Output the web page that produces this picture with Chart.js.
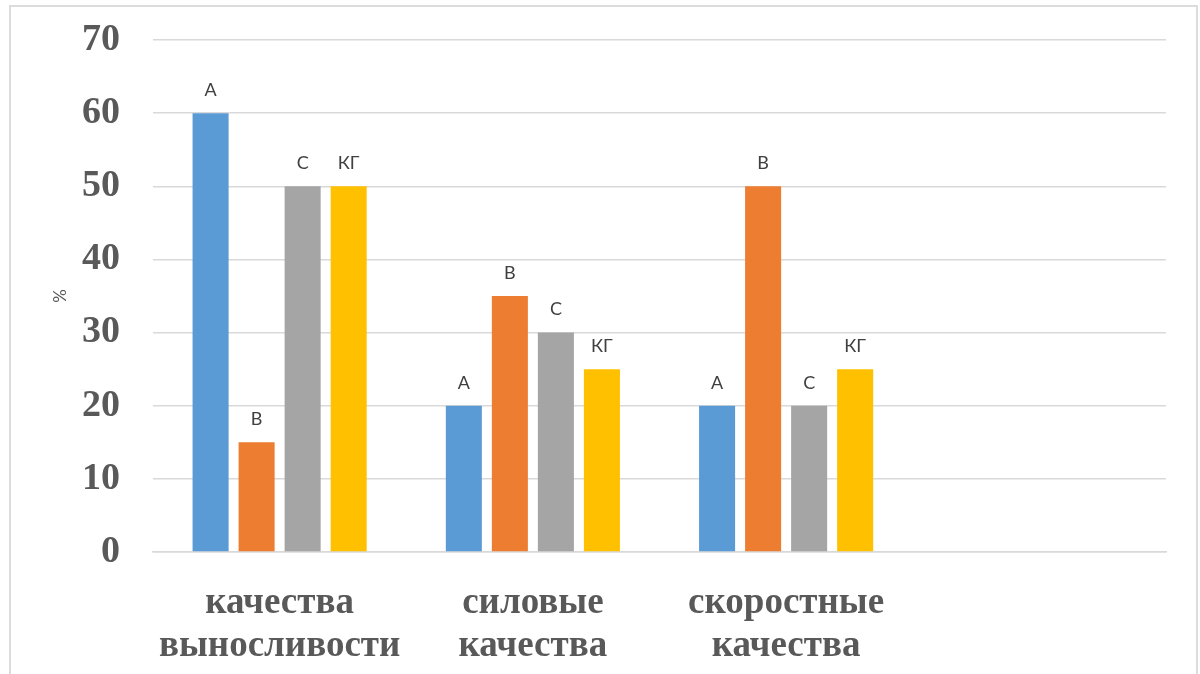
<!DOCTYPE html>
<html lang="ru">
<head>
    <meta charset="UTF-8">
    <title>Качества</title>
    <script src="https://cdn.jsdelivr.net/npm/chart.js"></script>
    <style>
        body {
            margin: 0;
            background: #fff;
            overflow: hidden;
        }
        .wrap {
            position: relative;
            width: 1200px;
            height: 674px;
        }
        .frame {
            position: absolute;
            left: 9px;
            top: 5px;
            width: 1185px;
            height: 720px;
            border: 2px solid #dcdcdc;
            pointer-events: none;
        }
    </style>
</head>
<body>
    <div class="wrap">
        <canvas id="barChart" width="1200" height="674"></canvas>
        <div class="frame"></div>
    </div>

    <script>
        const categories = [
            ['качества', 'выносливости'],
            ['силовые', 'качества'],
            ['скоростные', 'качества'],
            ''
        ];
        const seriesNames = ['А', 'В', 'С', 'КГ'];
        const seriesA = [60, 20, 20, null];
        const seriesB = [15, 35, 50, null];
        const seriesC = [50, 30, 20, null];
        const seriesKG = [50, 25, 25, null];
        const colors = ['#5B9BD5', '#ED7D31', '#A5A5A5', '#FFC000'];
        const yTicks = [0, 10, 20, 30, 40, 50, 60, 70];

        const allSeries = [seriesA, seriesB, seriesC, seriesKG];

        // series name drawn above each bar
        const barLabels = {
            id: 'barLabels',
            afterDatasetsDraw(chart) {
                const ctx = chart.ctx;
                ctx.save();
                ctx.font = '18px Lato';
                ctx.fillStyle = '#404040';
                ctx.textAlign = 'center';
                ctx.textBaseline = 'bottom';
                chart.data.datasets.forEach((ds, i) => {
                    const meta = chart.getDatasetMeta(i);
                    meta.data.forEach((bar, j) => {
                        if (ds.data[j] == null) return;
                        ctx.fillText(ds.label, bar.x, bar.y - 14);
                    });
                });
                ctx.restore();
            }
        };

        new Chart(document.getElementById('barChart'), {
            type: 'bar',
            data: {
                labels: categories,
                datasets: allSeries.map((d, i) => ({
                    label: seriesNames[i],
                    data: d,
                    backgroundColor: colors[i],
                    categoryPercentage: 0.727,
                    barPercentage: 0.783
                }))
            },
            options: {
                responsive: false,
                animation: false,
                layout: { padding: { top: 40, right: 34, bottom: 0, left: 0 } },
                plugins: {
                    legend: { display: false },
                    tooltip: { enabled: false }
                },
                scales: {
                    x: {
                        grid: { display: false },
                        border: { color: '#d9d9d9', width: 1.5 },
                        ticks: {
                            color: '#595959',
                            padding: 22,
                            maxRotation: 0,
                            font: { family: 'Liberation Serif', weight: 'bold', size: 37, lineHeight: 1.16 }
                        },
                        afterFit(scale) { scale.height = 122; }
                    },
                    y: {
                        min: 0,
                        max: 70,
                        afterBuildTicks(scale) { scale.ticks = yTicks.map(v => ({ value: v })); },
                        grid: { color: '#d9d9d9', lineWidth: 1.5, drawTicks: false },
                        border: { display: false },
                        ticks: {
                            color: '#595959',
                            padding: 33,
                            font: { family: 'Liberation Serif', weight: 'bold', size: 38 }
                        },
                        title: {
                            display: true,
                            text: '%',
                            color: '#595959',
                            font: { family: 'Lato', size: 17 },
                            padding: { top: 50 }
                        },
                        afterFit(scale) {
                            scale.width = 153;
                            scale.paddingTop = 0;
                            scale.paddingBottom = 0;
                        }
                    }
                }
            },
            plugins: [barLabels]
        });
    </script>
</body>
</html>
